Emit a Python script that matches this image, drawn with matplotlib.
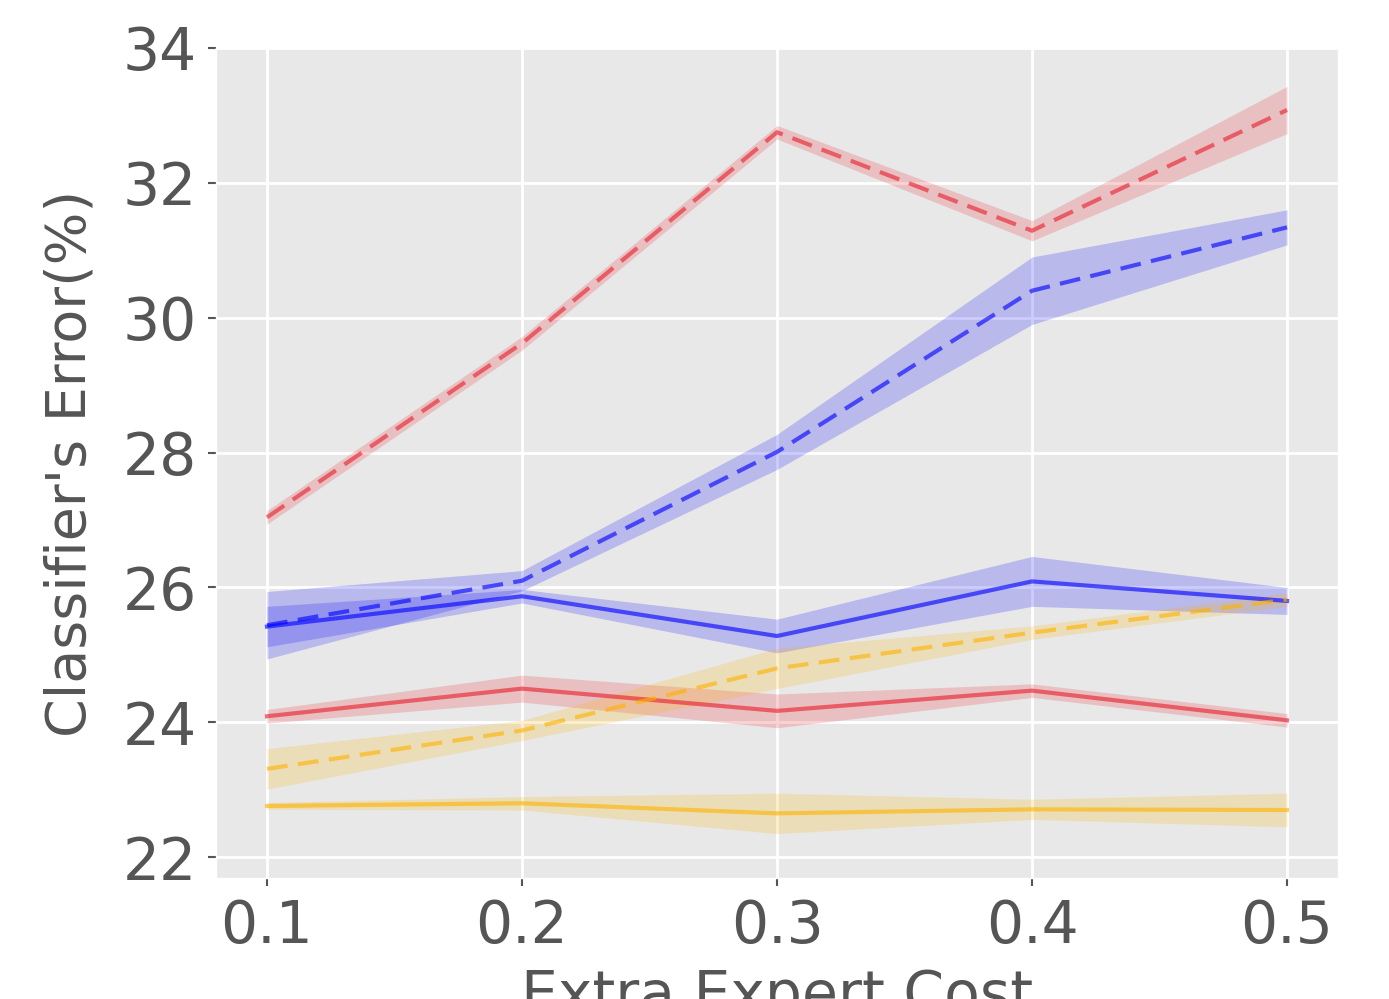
import matplotlib
matplotlib.use("Agg")
import matplotlib.pyplot as plt
import numpy as np

costs = [0.1, 0.2, 0.3, 0.4, 0.5]

red_dashed = [27.04, 29.62, 32.75, 31.29, 33.08]
red_dashed_err = [0.10, 0.10, 0.10, 0.15, 0.35]
blue_dashed = [25.44, 26.10, 28.01, 30.40, 31.34]
blue_dashed_err = [0.50, 0.15, 0.26, 0.50, 0.26]
blue_solid = [25.42, 25.87, 25.28, 26.09, 25.80]
blue_solid_err = [0.30, 0.10, 0.25, 0.37, 0.20]
red_solid = [24.09, 24.50, 24.17, 24.47, 24.03]
red_solid_err = [0.10, 0.20, 0.25, 0.10, 0.10]
gold_dashed = [23.31, 23.88, 24.80, 25.33, 25.82]
gold_dashed_err = [0.30, 0.15, 0.30, 0.10, 0.10]
gold_solid = [22.76, 22.80, 22.65, 22.71, 22.70]
gold_solid_err = [0.05, 0.10, 0.30, 0.15, 0.25]

RED = "#e8202c"
BLUE = "#0000ff"
GOLD = "#ffb300"

plt.style.use("ggplot")
fig = plt.figure(figsize=(13.89, 9.99), dpi=100)
ax = fig.add_axes([0.1555, 0.121, 0.8078, 0.831])
ax.set_facecolor("#e8e8e8")

series = [
    (red_dashed, red_dashed_err, RED, "--"),
    (blue_dashed, blue_dashed_err, BLUE, "--"),
    (blue_solid, blue_solid_err, BLUE, "-"),
    (red_solid, red_solid_err, RED, "-"),
    (gold_dashed, gold_dashed_err, GOLD, "--"),
    (gold_solid, gold_solid_err, GOLD, "-"),
]

x = np.array(costs)
for vals, errs, col, ls in series:
    v = np.array(vals)
    e = np.array(errs)
    ax.fill_between(x, v - e, v + e, color=col, alpha=0.2, linewidth=0)
    ax.plot(x, v, color=col, linestyle=ls, linewidth=3, alpha=0.62,
            dashes=(5, 2.5) if ls == "--" else (None, None))

ax.set_xticks(costs)
ax.set_xticklabels(["0.1", "0.2", "0.3", "0.4", "0.5"])
ax.set_yticks([22, 24, 26, 28, 30, 32, 34])
ax.set_ylim(21.69, 34.0)
ax.set_xlim(0.08, 0.52)
ax.tick_params(axis="both", labelsize=42, colors="#555555", length=6, width=1.5, pad=8)
ax.grid(True, color="white", linewidth=2)
ax.set_xlabel("Extra Expert Cost", fontsize=42, color="#555555", labelpad=10)
ax.set_ylabel("Classifier's Error(%)", fontsize=40, color="#555555", labelpad=18)

fig.savefig("out.png", dpi=100)
